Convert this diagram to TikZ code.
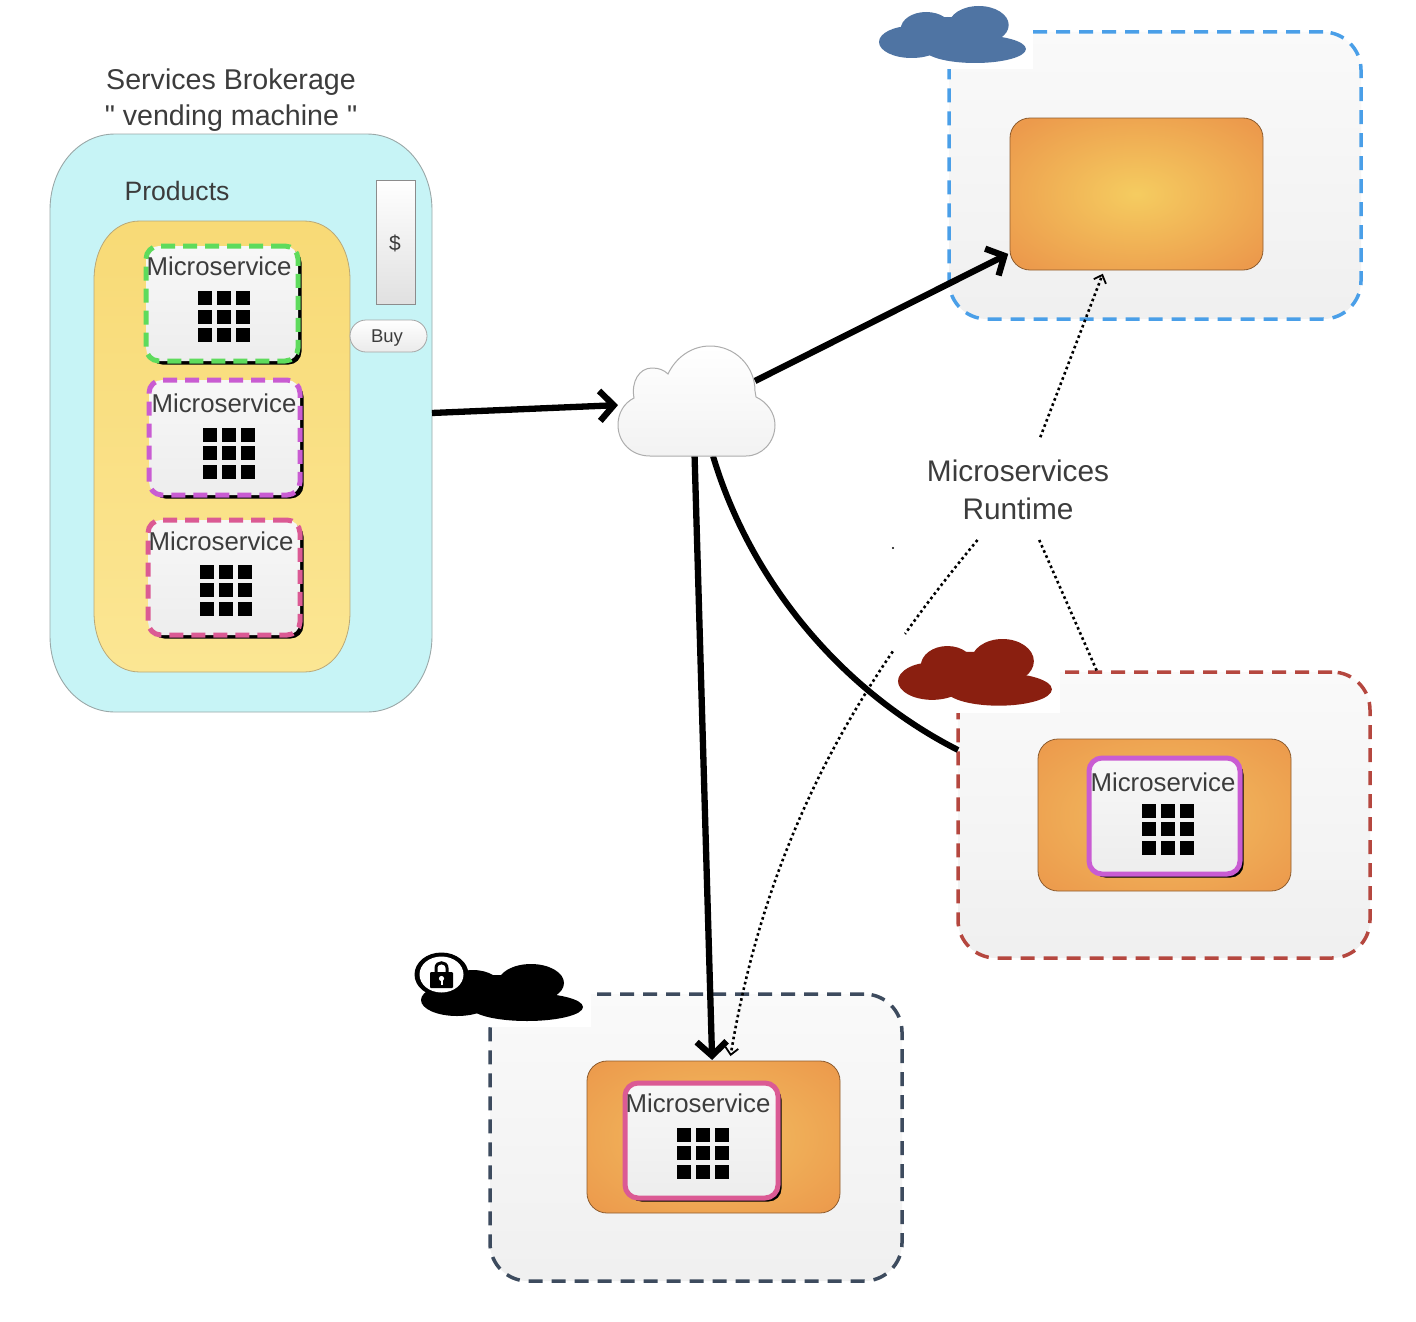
\documentclass[tikz,border=0pt]{standalone}
\usepackage{fontspec}
\setmainfont{Liberation Sans}
\newfontfamily\rawquote{Liberation Sans}
\usetikzlibrary{arrows.meta,shadows,calc}
\definecolor{txt}{HTML}{3C3C3C}
\definecolor{vendfill}{HTML}{C7F4F6}
\definecolor{vendline}{HTML}{9AA8A8}
\definecolor{yelA}{HTML}{FBE693}
\definecolor{yelB}{HTML}{F8DA76}
\definecolor{yelline}{HTML}{B9A878}
\definecolor{glowA}{HTML}{F5CC60}
\definecolor{glowB}{HTML}{EC9A4C}
\definecolor{glowC}{HTML}{F0B25A}
\definecolor{msgreen}{HTML}{5EDB5C}
\definecolor{mspurple}{HTML}{C95CD2}
\definecolor{mspink}{HTML}{DB5A94}
\definecolor{cloudblue}{HTML}{4F74A3}
\definecolor{cloudred}{HTML}{8A1F10}
\definecolor{lineblue}{HTML}{4A9FE8}
\definecolor{linered}{HTML}{B5473F}
\definecolor{lineslate}{HTML}{3D4B5E}
\pgfdeclareradialshading{glowbright}{\pgfpoint{0bp}{0bp}}{color(0bp)=(glowA); color(32bp)=(glowB); color(50bp)=(glowB)}
\pgfdeclareradialshading{glowsoft}{\pgfpoint{0bp}{0bp}}{color(0bp)=(glowC); color(12bp)=(glowC); color(34bp)=(glowB); color(50bp)=(glowB)}
\tikzset{
  plain/.style={inner sep=0pt,outer sep=0pt},
  zone/.style={plain,rounded corners=38pt,line width=3.5pt,dash pattern=on 14pt off 9pt,top color=white!98!black,bottom color=black!6,minimum width=#1},
  runtimebox/.style={plain,rounded corners=20pt,draw=black!40!glowB,line width=0.8pt,minimum width=253pt,minimum height=152pt},
  msbox/.style={plain,rounded corners=13pt,line width=5pt,top color=white!97!black,bottom color=black!7,drop shadow={shadow xshift=3.5pt,shadow yshift=-3.5pt,fill=black,opacity=1}},
  mstext/.style={plain,text=txt,font=\fontsize{25.8}{30}\selectfont},
  bigtext/.style={plain,text=txt,align=center},
  thick arrow/.style={line width=6.3pt,-{Straight Barb[length=14pt,width=30pt]}},
  thick line/.style={line width=6pt},
  fine dots/.style={line width=2.6pt,dash pattern=on 2.6pt off 3pt,black},
  fine arrow/.style={fine dots,-{Straight Barb[length=7pt,width=13pt,line width=1.8pt]}},
}
\newcommand{\gridicon}[2]{%
  \foreach \gi in {-1,0,1}{\foreach \gj in {-1,0,1}{%
    \fill[black] ({#1+19*\gi-7},{#2+18.5*\gj-7}) rectangle ({#1+19*\gi+7},{#2+18.5*\gj+7});}}}
\newcommand{\blobcloud}[5]{%
  \fill[white] ({#1-4},{#2-4}) rectangle ({#1+170*#3},{#2+63*#4});
  \begin{scope}[shift={(#1,#2)},xscale=#3,yscale=#4]
    \fill[#5] (36,36) ellipse [x radius=36,y radius=16];
    \fill[#5] (106,43) ellipse [x radius=56,y radius=14];
    \fill[#5] (110,19) ellipse [x radius=33,y radius=19];
    \fill[#5] (52,23) ellipse [x radius=28,y radius=17];
    \fill[#5] (76,30) ellipse [x radius=40,y radius=19];
  \end{scope}}
\begin{document}
\begin{tikzpicture}[x=1pt,y=-1pt]
\useasboundingbox (0,0) rectangle (1416,1322);
\fill[white] (0,0) rectangle (1416,1322);

% vending machine
\node[plain,minimum width=382pt,minimum height=578pt] (vending) at (241,423) {};
\draw[fill=vendfill,draw=vendline,line width=0.9pt] (50,210) .. controls (50,168) and (78,134) .. (115,134) -- (367,134) .. controls (404,134) and (432,168) .. (432,210) -- (432,636) .. controls (432,678) and (404,712) .. (367,712) -- (115,712) .. controls (78,712) and (50,678) .. (50,636) -- cycle;
\draw[top color=yelB,bottom color=yelA,draw=yelline,line width=0.8pt] (94,280) .. controls (94,247) and (112,221) .. (140,221) -- (304,221) .. controls (332,221) and (350,247) .. (350,280) -- (350,612) .. controls (350,646) and (332,672) .. (304,672) -- (140,672) .. controls (112,672) and (94,646) .. (94,612) -- cycle;
\node[bigtext,font=\fontsize{28.6}{36}\selectfont] (title) at (231,100) {Services Brokerage\\{\rawquote"} vending machine {\rawquote"}};
\node[bigtext,font=\fontsize{26.6}{30}\selectfont] (products) at (177,191) {Products};
\node[plain,draw=black!45,line width=0.8pt,top color=white,bottom color=black!12,minimum width=39pt,minimum height=124pt] (price) at (395.5,242) {};
\node[plain,text=txt,font=\fontsize{21}{24}\selectfont] (dollar) at (395,243) {\$};
\node[plain,draw=black!35,line width=0.8pt,rounded corners=16pt,top color=white,bottom color=black!8,minimum width=77pt,minimum height=32pt] (buy) at (388.5,336) {};
\node[plain,text=txt,font=\fontsize{18.5}{22}\selectfont] (buytext) at (387,338) {Buy};

% catalogue microservices
\node[msbox,draw=msgreen,dash pattern=on 14pt off 8pt,minimum width=152pt,minimum height=115pt] (ms1) at (222,303.5) {};
\node[mstext] (ms1t) at (219,266) {Microservice};
\gridicon{224}{316.5}
\node[msbox,draw=mspurple,dash pattern=on 14pt off 8pt,minimum width=151pt,minimum height=115pt] (ms2) at (224.5,437.5) {};
\node[mstext] (ms2t) at (224,403) {Microservice};
\gridicon{228.5}{453}
\node[msbox,draw=mspink,dash pattern=on 14pt off 8pt,minimum width=152pt,minimum height=115pt] (ms3) at (224,577.5) {};
\node[mstext] (ms3t) at (221,541) {Microservice};
\gridicon{226}{590}

% blue zone
\node[zone=412pt,draw=lineblue,minimum height=287pt] (zoneblue) at (1155,175.5) {};
\node[runtimebox,shading=glowbright] (rtblue) at (1136.5,194) {};
\blobcloud{879}{6}{0.907}{1}{cloudblue}

% red zone
\node[zone=412pt,draw=linered,minimum height=286pt] (zonered) at (1164,815) {};
\node[runtimebox,shading=glowsoft] (rtred) at (1164.5,815) {};
\node[msbox,draw=mspurple,minimum width=151pt,minimum height=116pt] (ms4) at (1164.5,816) {};
\node[mstext] (ms4t) at (1163,782) {Microservice};
\gridicon{1168}{829}
\blobcloud{898}{639}{0.95}{1.17}{cloudred}

% slate zone
\node[zone=412pt,draw=lineslate,minimum height=287pt] (zoneslate) at (696,1137.5) {};
\node[runtimebox,shading=glowsoft] (rtslate) at (713.5,1137) {};
\node[msbox,draw=mspink,minimum width=153pt,minimum height=115pt] (ms5) at (701.5,1140.5) {};
\node[mstext] (ms5t) at (698,1103) {Microservice};
\gridicon{703}{1153}
\blobcloud{421}{964}{1}{1}{black}
% lock badge
\fill[black] (441.5,974.5) ellipse [x radius=27,y radius=22];
\fill[white] (441.5,974.5) ellipse [x radius=22,y radius=18];
\draw[black,line width=3pt] (436,973) -- (436,968) .. controls (436,961) and (447,961) .. (447,968) -- (447,973);
\fill[black,rounded corners=1pt] (430,972) rectangle (453,988);
\fill[white] (441.5,978.5) circle [radius=2.6];
\fill[white] (440.5,978.5) rectangle (442.5,985);

% hub cloud
\node[plain,minimum width=157pt,minimum height=110pt] (hub) at (696.5,401) {};
\coordinate (hubne) at (755,381);
\coordinate (hubse) at (713,456);
\coordinate (redjoin) at (958,750);

% connectors
\draw[thick arrow] (vending.3) -- (hub.183);
\draw[thick arrow,shorten >=2pt] (hubne) -- (rtblue.205.5);
\draw[thick arrow,shorten >=1pt] (hub.268.5) -- (rtslate.91.5);
\draw[thick line] (hubse) .. controls (750,580) and (840,690) .. (redjoin);

\draw[top color=white,bottom color=black!5,draw=black!32,line width=1pt] (650,456) .. controls (631,456) and (618,442) .. (618,425)
  .. controls (618,413) and (624,403) .. (634,398)
  .. controls (631,382) and (639,368) .. (652,368)
  .. controls (659,368) and (664,370) .. (668,374)
  .. controls (676,357) and (692,346) .. (710,346)
  .. controls (735,346) and (755,366) .. (755,391)
  -- (756,397)
  .. controls (767,402) and (775,413) .. (775,425)
  .. controls (775,442) and (762,456) .. (746,456) -- cycle;

\node[bigtext,font=\fontsize{29.8}{38}\selectfont,minimum width=182pt,minimum height=100pt] (runtime) at (1018,490) {Microservices\\Runtime};
\draw[fine arrow,shorten >=4pt,shorten <=3pt] (runtime.67) -- (rtblue.247);
\draw[fine dots] (runtime.293.5) -- (zonered.115);
\draw[fine arrow,shorten >=5pt] (runtime.231) .. controls (870,670) and (770,820) .. (rtslate.78.5);
\fill[white] (898,641) circle [radius=10];
\fill[black] (893,548) circle [radius=1.2];
\end{tikzpicture}
\end{document}
